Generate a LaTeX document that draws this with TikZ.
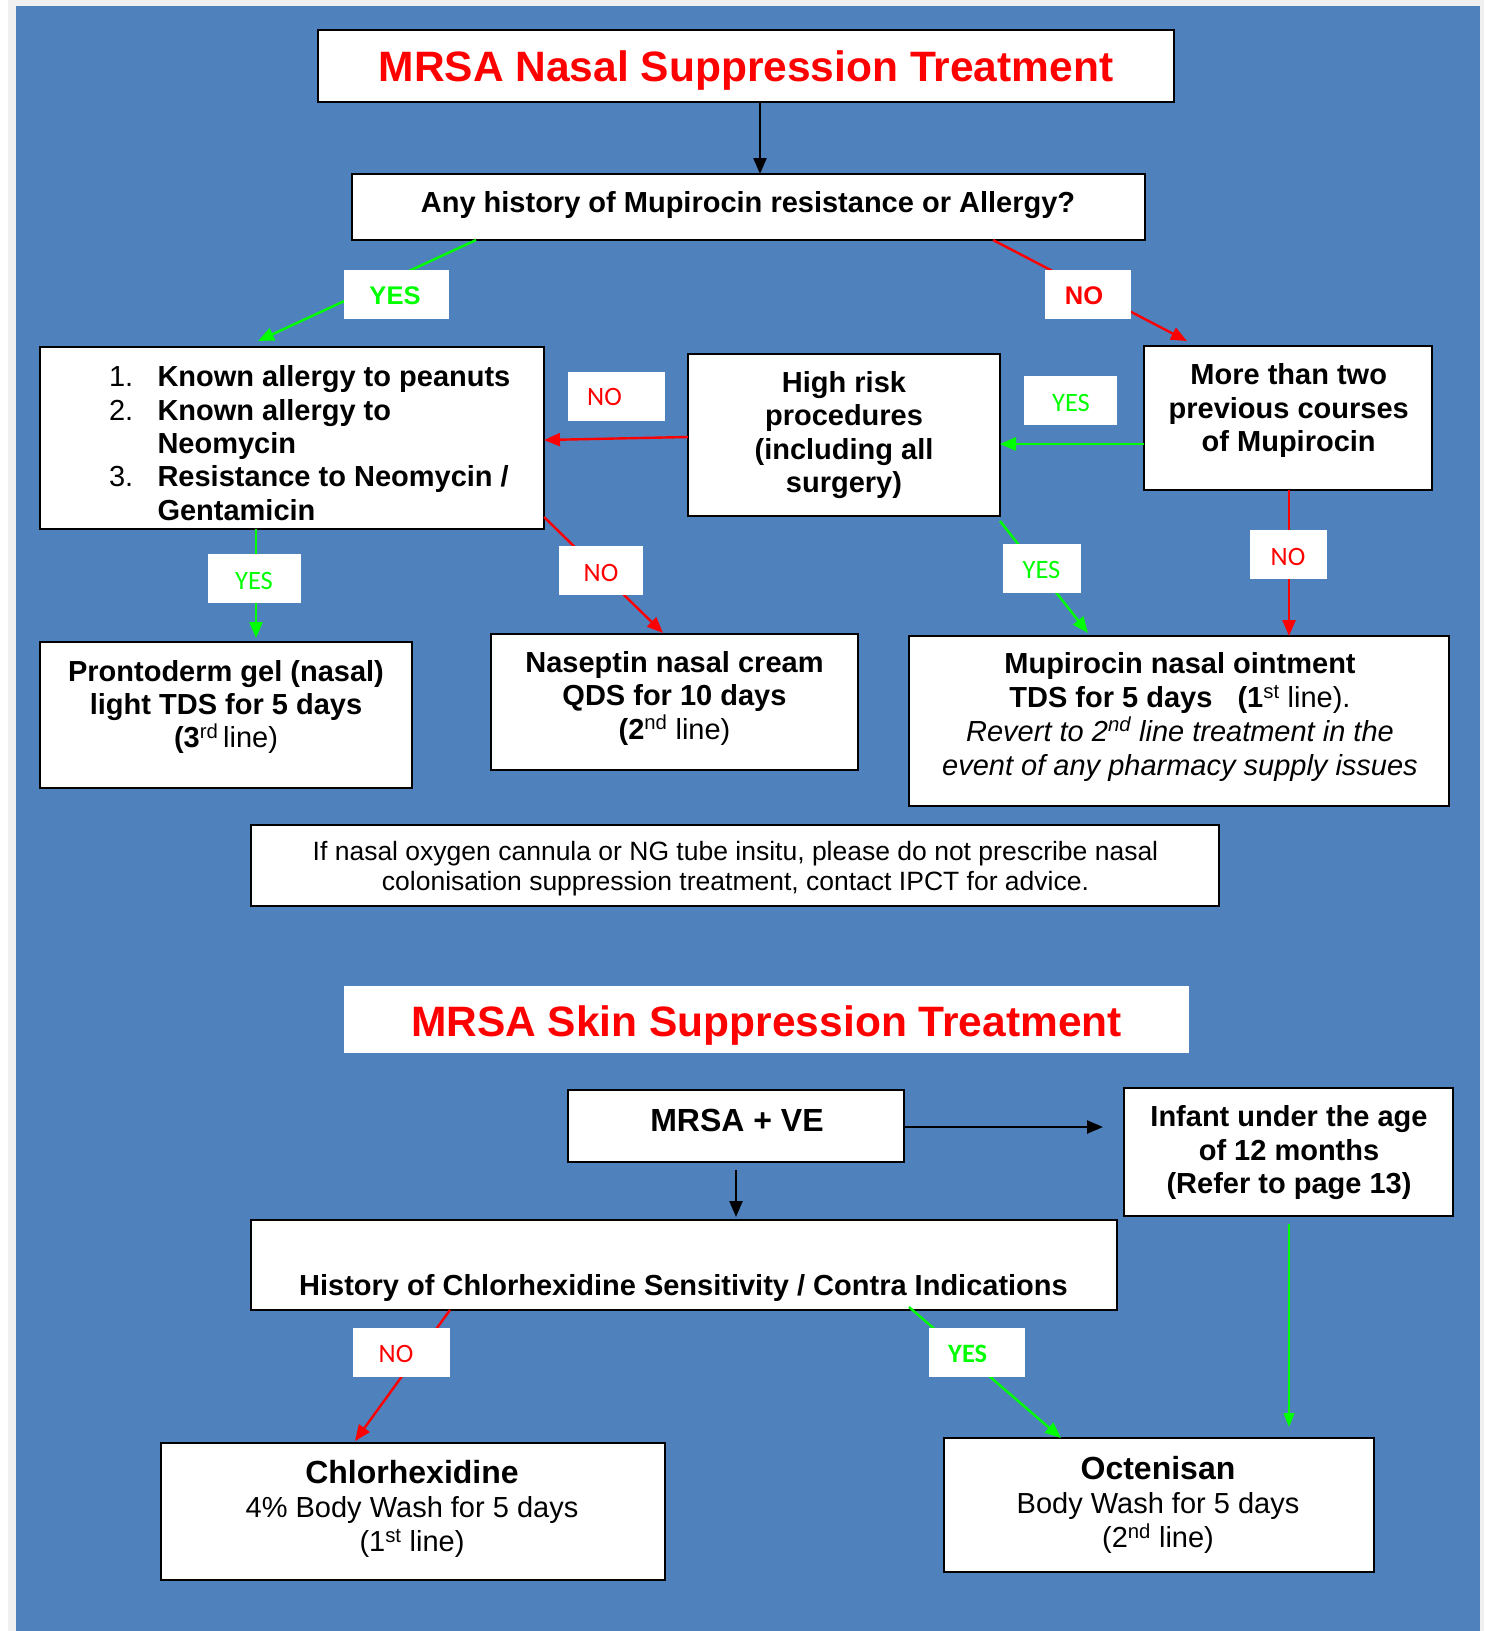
\documentclass[tikz,border=0pt]{standalone}
\usepackage{fontspec}
\setmainfont{Liberation Sans}
\newfontfamily\carlito{Carlito}
\usetikzlibrary{arrows.meta}
\definecolor{bgblue}{HTML}{4F81BD}
\definecolor{yesgreen}{HTML}{00FF00}
\definecolor{nored}{HTML}{FF0000}
\definecolor{margingrey}{HTML}{F0F0F0}
\newcommand\myTitle{\fontsize{42.5}{48}\selectfont\bfseries}
\newcommand\myBold{\fontsize{29}{33}\selectfont\bfseries}
\newcommand\myReg{\fontsize{29}{33}\selectfont\mdseries}
\newcommand\myBig{\fontsize{32}{36}\selectfont\bfseries}
\newcommand\myNote{\fontsize{26.5}{30}\selectfont\mdseries}
\newcommand\myLblB{\fontsize{25.5}{30}\selectfont\bfseries}
\newcommand\myLblC{\fontsize{26.5}{30}\selectfont\carlito}
\begin{document}
\begin{tikzpicture}[x=1pt,y=-1pt,
  box/.style={draw=black, line width=2.2pt, fill=white, inner sep=0pt, outer sep=0pt, rectangle},
  plainbox/.style={fill=white, inner sep=0pt, outer sep=0pt, rectangle},
  lbl/.style={fill=white, inner sep=0pt, outer sep=0pt, rectangle, minimum height=49pt},
  t/.style={inner sep=0pt, outer sep=0pt, anchor=base},
  tl/.style={inner sep=0pt, outer sep=0pt, anchor=base west},
  arr/.style={line width=2.4pt, -{Triangle[length=16pt,width=13pt]}},
  thinarr/.style={line width=1.4pt, -{Triangle[length=14pt,width=11pt]}},
  yesline/.style={arr, draw=yesgreen, fill=yesgreen},
  noline/.style={arr, draw=nored, fill=nored},
  blackline/.style={arr, draw=black, fill=black}]

% background
\fill[margingrey] (0,0) rectangle (1484,1631);
\fill[white] (0,0) rectangle (8,1631);
\fill[bgblue] (16,6) rectangle (1480,1631);

% boxes
\node[box, minimum width=856pt, minimum height=72pt] (t1) at (746,66) {};
\node[box, minimum width=793pt, minimum height=66pt] (q1) at (748.5,207) {};
\node[box, minimum width=504pt, minimum height=182pt] (al) at (292,438) {};
\node[box, minimum width=312pt, minimum height=162pt] (hr) at (844,435) {};
\node[box, minimum width=288pt, minimum height=144pt] (mt) at (1288,418) {};
\node[box, minimum width=372pt, minimum height=146pt] (pr) at (226,715) {};
\node[box, minimum width=367pt, minimum height=136pt] (na) at (674.5,702) {};
\node[box, minimum width=540pt, minimum height=170pt] (mu) at (1179,721) {};
\node[box, minimum width=968pt, minimum height=81pt] (nt) at (735,865.5) {};
\node[plainbox, minimum width=845pt, minimum height=67pt] (t2) at (766.5,1019.5) {};
\node[box, minimum width=336pt, minimum height=72pt] (mv) at (736,1126) {};
\node[box, minimum width=329pt, minimum height=128pt] (inf) at (1288.5,1152) {};
\node[box, minimum width=866pt, minimum height=90pt] (hi) at (684,1265) {};
\node[box, minimum width=504pt, minimum height=137pt] (ch) at (413,1511.5) {};
\node[box, minimum width=430pt, minimum height=134pt] (oc) at (1159,1505) {};

% connectors
\draw[blackline] ([xshift=14pt]t1.south) -- ([xshift=11.5pt]q1.north);
\draw[yesline] ([xshift=124pt]q1.south west) -- ([xshift=218pt,yshift=6pt]al.north west);
\draw[noline] ([xshift=-152pt]q1.south east) -- ([xshift=43pt,yshift=5pt]mt.north west);
\draw[yesline] ([yshift=-26pt]mt.west) -- ([yshift=-9pt]hr.east);
\draw[noline] ([yshift=-2pt]hr.west) -- ([yshift=-2pt]al.east);
\draw[yesline] ([xshift=216pt]al.south west) -- ([xshift=216pt,yshift=4pt]pr.north west);
\draw[noline] ([yshift=12pt]al.south east) -- ([xshift=172pt,yshift=1pt]na.north west);
\draw[yesline] ([yshift=-5pt]hr.south east) -- ([xshift=179pt,yshift=3pt]mu.north west);
\draw[noline] ([xshift=1pt]mt.south) -- ([xshift=380pt]mu.north west);
\draw[blackline] ([yshift=-1pt]mv.east) -- ([xshift=-21pt,yshift=25pt]inf.west);
\draw[blackline] ([yshift=-8pt]mv.south) -- ([xshift=52pt,yshift=3pt]hi.north);
\draw[noline] ([xshift=199pt]hi.south west) -- ([xshift=194pt,yshift=2pt]ch.north west);
\draw[yesline] ([xshift=-208pt,yshift=3pt]hi.south east) -- ([xshift=117pt]oc.north west);
\draw[thinarr, draw=yesgreen, fill=yesgreen] ([xshift=0.5pt,yshift=-8pt]inf.south) -- ([xshift=345pt,yshift=11pt]oc.north west);

% label boxes
\node[lbl, minimum width=105pt] (l1) at (396.5,294.5) {};
\node[lbl, minimum width=86pt] (l2) at (1088,294.5) {};
\node[lbl, minimum width=97pt] (l3) at (616.5,396.5) {};
\node[lbl, minimum width=93pt] (l4) at (1070.5,400.5) {};
\node[lbl, minimum width=93pt] (l5) at (254.5,578.5) {};
\node[lbl, minimum width=84pt] (l6) at (601,570.5) {};
\node[lbl, minimum width=78pt] (l7) at (1042,568.5) {};
\node[lbl, minimum width=77pt] (l8) at (1288.5,554.5) {};
\node[lbl, minimum width=97pt] (l9) at (401.5,1352.5) {};
\node[lbl, minimum width=96pt] (l10) at (977,1352.5) {};

% label texts
\node[t, font=\myLblB, text=yesgreen] (l1t) at (395,304) {YES};
\node[t, font=\myLblB, text=nored] (l2t) at (1084,304) {NO};
\node[t, font=\myLblC, text=nored] (l3t) at (604.5,405.7) {NO};
\node[t, font=\myLblC, text=yesgreen] (l4t) at (1071,411.7) {YES};
\node[t, font=\myLblC, text=yesgreen] (l5t) at (254,589) {YES};
\node[t, font=\myLblC, text=nored] (l6t) at (601,581.7) {NO};
\node[t, font=\myLblC, text=yesgreen] (l7t) at (1041.5,578.3) {YES};
\node[t, font=\myLblC, text=nored] (l8t) at (1288,565) {NO};
\node[t, font=\myLblC, text=nored] (l9t) at (396,1362.7) {NO};
\node[t, font=\myLblC\bfseries, text=yesgreen] (l10t) at (967.7,1362.7) {YES};

% titles
\node[t, font=\myTitle, text=nored] (t1t) at (746,81) {MRSA Nasal Suppression Treatment};
\node[t, font=\myTitle, text=nored] (t2t) at (766.5,1036) {MRSA Skin Suppression Treatment};

% question
\node[t, font=\myBold] (q1t) at (748,212) {Any history of Mupirocin resistance or Allergy?};

% allergy list
\node[tl, font=\myReg] (aln1) at (109,386.7) {1.};
\node[tl, font=\myBold] (ala1) at (157.5,386.7) {Known allergy to peanuts};
\node[tl, font=\myReg] (aln2) at (109,420) {2.};
\node[tl, font=\myBold] (ala2) at (157.5,420) {Known allergy to};
\node[tl, font=\myBold] (ala3) at (157.5,453.3) {Neomycin};
\node[tl, font=\myReg] (aln3) at (109,486.7) {3.};
\node[tl, font=\myBold] (ala4) at (157.5,486.7) {Resistance to Neomycin /};
\node[tl, font=\myBold] (ala5) at (157.5,520) {Gentamicin};

% high risk
\node[t, font=\myBold] (hr1) at (844,392.7) {High risk};
\node[t, font=\myBold] (hr2) at (844,425.7) {procedures};
\node[t, font=\myBold] (hr3) at (844,459.3) {(including all};
\node[t, font=\myBold] (hr4) at (844,492.7) {surgery)};

% more than two
\node[t, font=\myBold] (mt1) at (1288.7,384.5) {More than two};
\node[t, font=\myBold] (mt2) at (1288.7,418) {previous courses};
\node[t, font=\myBold] (mt3) at (1288.7,451.5) {of Mupirocin};

% prontoderm
\node[t, font=\myBold] (pr1) at (226,681) {Prontoderm gel (nasal)};
\node[t, font=\myBold] (pr2) at (226,714) {light TDS for 5 days};
\node[t, font=\myReg] (pr3) at (226,747.5) {\textbf{(3}\textsuperscript{rd}\,line)};

% naseptin
\node[t, font=\myBold] (na1) at (674.5,672.7) {Naseptin nasal cream};
\node[t, font=\myBold] (na2) at (674.5,705.7) {QDS for 10 days};
\node[t, font=\myReg] (na3) at (674.5,739) {\textbf{(2}\textsuperscript{nd} line)};

% mupirocin
\node[t, font=\myBold] (mu1) at (1180,673.3) {Mupirocin nasal ointment};
\node[t, font=\myReg] (mu2) at (1180,707.3) {\textbf{TDS for 5 days\hspace{17pt} (1}\textsuperscript{st} line).};
\node[t, font=\myReg\itshape] (mu3) at (1180,741) {Revert to 2\textsuperscript{nd} line treatment in the};
\node[t, font=\myReg\itshape] (mu4) at (1180,775) {event of any pharmacy supply issues};

% note
\node[t, font=\myNote] (nt1) at (735.5,860) {If nasal oxygen cannula or NG tube insitu, please do not prescribe nasal};
\node[t, font=\myNote] (nt2) at (735.5,890.7) {colonisation suppression treatment, contact IPCT for advice.};

% skin part
\node[t, font=\myBig] (mvt) at (737,1131.7) {MRSA + VE};
\node[t, font=\myBold] (inf1) at (1289,1126) {Infant under the age};
\node[t, font=\myBold] (inf2) at (1289,1160) {of 12 months};
\node[t, font=\myBold] (inf3) at (1289,1193.3) {(Refer to page 13)};
\node[t, font=\myBold] (hit) at (683.5,1295) {History of Chlorhexidine Sensitivity / Contra Indications};

\node[t, font=\myBig] (ch1) at (412,1483.5) {Chlorhexidine};
\node[t, font=\myReg] (ch2) at (412,1517.5) {4\% Body Wash for 5 days};
\node[t, font=\myReg] (ch3) at (412,1551.5) {(1\textsuperscript{st} line)};

\node[t, font=\myBig] (oc1) at (1158,1479.5) {Octenisan};
\node[t, font=\myReg] (oc2) at (1158,1513.5) {Body Wash for 5 days};
\node[t, font=\myReg] (oc3) at (1158,1547.5) {(2\textsuperscript{nd} line)};
\end{tikzpicture}
\end{document}
